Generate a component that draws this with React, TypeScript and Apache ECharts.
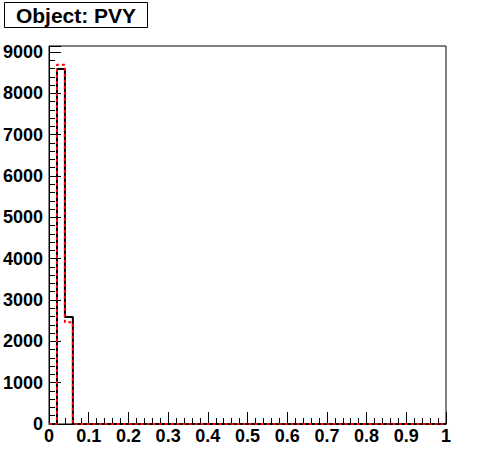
import React, { useEffect, useRef } from "react";
import * as echarts from "echarts";

const title = "Object: PVY";
const binWidth = 0.02;
// 50 bins from 0 to 1
const blackValues = [
  0, 8590, 2590, 0, 0, 0, 0, 0, 0, 0,
  0, 0, 0, 0, 0, 0, 0, 0, 0, 0,
  0, 0, 0, 0, 0, 0, 0, 0, 0, 0,
  0, 0, 0, 0, 0, 0, 0, 0, 0, 0,
  0, 0, 0, 0, 0, 0, 0, 0, 0, 0,
];
const redValues = [
  0, 8690, 2460, 0, 0, 0, 0, 0, 0, 0,
  0, 0, 0, 0, 0, 0, 0, 0, 0, 0,
  0, 0, 0, 0, 0, 0, 0, 0, 0, 0,
  0, 0, 0, 0, 0, 0, 0, 0, 0, 0,
  0, 0, 0, 0, 0, 0, 0, 0, 0, 0,
];
const xTicks = [0, 0.1, 0.2, 0.3, 0.4, 0.5, 0.6, 0.7, 0.8, 0.9, 1];
const yTicks = [0, 1000, 2000, 3000, 4000, 5000, 6000, 7000, 8000, 9000];
const yMax = 9145;

function toSteps(vals: number[]): number[][] {
  const pts = vals.map((v, i) => [+(i * binWidth).toFixed(4), v]);
  pts.push([+(vals.length * binWidth).toFixed(4), vals[vals.length - 1]]);
  return pts;
}

const FONT = "Liberation Sans, Arial, Helvetica, sans-serif";

export default function App() {
  const ref = useRef<HTMLDivElement>(null);
  useEffect(() => {
    if (!ref.current) return;
    const chart = echarts.init(ref.current, undefined, { renderer: "svg" });
    chart.setOption({
      animation: false,
      backgroundColor: "#ffffff",
      grid: {
        left: 49,
        top: 46,
        right: 50,
        bottom: 48,
        show: true,
        borderColor: "#000",
        borderWidth: 1,
        backgroundColor: "transparent",
      },
      xAxis: {
        type: "value",
        min: xTicks[0],
        max: xTicks[xTicks.length - 1],
        interval: 0.1,
        axisLine: { show: true, onZero: false, lineStyle: { color: "#000", width: 1 } },
        axisTick: { show: true, inside: true, length: 12, lineStyle: { color: "#000" } },
        minorTick: { show: true, splitNumber: 5, length: 6, lineStyle: { color: "#000" } },
        splitLine: { show: false },
        axisLabel: {
          color: "#000",
          fontFamily: FONT,
          fontWeight: "bold",
          fontSize: 18,
          margin: 3,
          formatter: (v: number) => String(+v.toFixed(2)),
        },
      },
      yAxis: {
        type: "value",
        min: yTicks[0],
        max: yMax,
        interval: 1000,
        axisLine: { show: true, lineStyle: { color: "#000", width: 1 } },
        axisTick: { show: true, inside: true, length: 12, lineStyle: { color: "#000" } },
        minorTick: { show: true, splitNumber: 5, length: 6, lineStyle: { color: "#000" } },
        splitLine: { show: false },
        axisLabel: {
          color: "#000",
          fontFamily: FONT,
          fontWeight: "bold",
          fontSize: 18,
          margin: 6,
          showMaxLabel: false,
          formatter: (v: number) => (yTicks.includes(v) ? String(v) : ""),
        },
      },
      series: [
        {
          type: "line",
          step: "end",
          data: toSteps(blackValues),
          symbol: "none",
          lineStyle: { color: "#000", width: 2 },
          z: 2,
        },
        {
          type: "line",
          step: "end",
          data: toSteps(redValues),
          symbol: "none",
          lineStyle: { color: "#ff0000", width: 2, type: [3, 3] },
          z: 3,
        },
      ],
      graphic: [
        {
          type: "rect",
          shape: { x: 4.5, y: 2.5, width: 143, height: 25 },
          style: { fill: "#fff", stroke: "#000", lineWidth: 1 },
        },
        {
          type: "text",
          x: 76,
          y: 15.5,
          style: {
            text: title,
            fontFamily: FONT,
            fontWeight: "bold",
            fontSize: 21,
            fill: "#000",
            align: "center",
            verticalAlign: "middle",
          },
        },
      ],
    });
    return () => chart.dispose();
  }, []);
  return (
    <div
      ref={ref}
      style={{ position: "fixed", left: 0, top: 0, width: 496, height: 472 }}
    />
  );
}
